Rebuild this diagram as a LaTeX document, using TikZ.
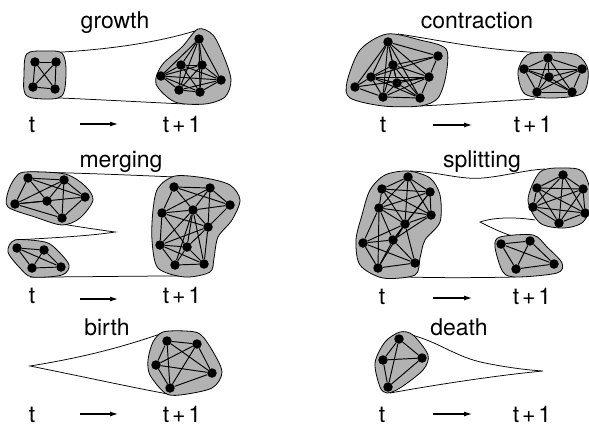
\documentclass[tikz,border=0pt]{standalone}
\usepackage{fontspec}
\setmainfont{TeX Gyre Heros}
\usetikzlibrary{arrows.meta}
% complete graph on vertices #11 ... #1#2
\newcommand\cliqueedges[2]{%
  \foreach \i in {1,...,#2}{\foreach \j in {1,...,#2}{%
    \ifnum\i<\j \draw[edge] (#1\i) -- (#1\j);\fi}}}
\newcommand\edgelist[2]{%
  \foreach \a/\b in {#2}{\draw[edge] (#1\a) -- (#1\b);}}
\begin{document}
\begin{tikzpicture}[x=1pt,y=-1pt,
  blob/.style={draw=black, line width=0.8pt, fill=black!30},
  tube/.style={draw=black, line width=0.75pt},
  edge/.style={draw=black, line width=0.95pt},
  vtx/.style={circle, fill=black, inner sep=0pt, minimum size=9.5pt},
  lbl/.style={font=\fontsize{23}{26}\selectfont, inner sep=0pt, anchor=base},
  timearrow/.style={-{Latex[length=8pt,width=5pt]}, line width=1.1pt}]
\useasboundingbox (0,0) rectangle (589,426);

% ---------------- growth ----------------
\draw[tube] (45,53) .. controls (110,50) and (160,42) .. (198,30);
\draw[tube] (35,97) .. controls (90,99) and (140,102) .. (185,104);
\draw[blob] plot[smooth cycle, tension=0.6] coordinates {(30,52) (45,51) (60,52) (65,60) (66,75) (64,92) (58,98) (44,99) (29,97) (24,90) (24,75) (25,58)};
\draw[blob] plot[smooth cycle] coordinates {(198,29) (213,35) (224,57) (231,80) (225,97) (205,104) (175,102) (156,84) (162,65) (182,47)};
\node[vtx] (ga1) at (35,62) {};
\node[vtx] (ga2) at (56,62) {};
\node[vtx] (ga3) at (33,87) {};
\node[vtx] (ga4) at (55,89) {};
\cliqueedges{ga}{4}
\node[vtx] (gb1) at (199,39) {};
\node[vtx] (gb2) at (181,65) {};
\node[vtx] (gb3) at (202,65) {};
\node[vtx] (gb4) at (161,76) {};
\node[vtx] (gb5) at (221,80) {};
\node[vtx] (gb6) at (179,90) {};
\node[vtx] (gb7) at (200,92) {};
\cliqueedges{gb}{7}
\node[lbl] (gtitle) at (115,28) {growth};
\node[lbl] (gt0) at (32,132) {t};
\node[lbl] (gt1) at (182,132) {t\hspace{.12em}+\hspace{.12em}1};
\coordinate (garr0) at (80,124);
\coordinate (garr1) at (118,124);
\draw[timearrow] (garr0) -- (garr1);

% ---------------- contraction ----------------
\draw[tube] (398,34) .. controls (440,40) and (480,50) .. (546,53);
\draw[tube] (420,106) .. controls (460,104) and (500,101) .. (535,99);
\draw[blob] plot[smooth cycle] coordinates {(387,34) (420,40) (446,49) (446,75) (438,98) (420,106) (383,106) (350,98) (347,82) (360,50)};
\draw[blob] plot[smooth cycle] coordinates {(527,55) (548,52) (577,55) (588,70) (583,93) (553,98) (525,94) (518,72)};
\node[vtx] (ca1) at (388,42) {};
\node[vtx] (ca2) at (438,56) {};
\node[vtx] (ca3) at (393,65) {};
\node[vtx] (ca4) at (371,77) {};
\node[vtx] (ca5) at (429,77) {};
\node[vtx] (ca6) at (397,83) {};
\node[vtx] (ca7) at (355,87) {};
\node[vtx] (ca8) at (383,97) {};
\node[vtx] (ca9) at (420,98) {};
\edgelist{ca}{1/2,1/3,1/4,1/5,1/6,1/7,1/8,1/9,2/3,2/4,2/5,3/4,3/5,3/6,3/8,3/9,4/5,4/6,4/7,4/8,4/9,5/6,5/7,5/8,5/9,6/8,6/9,7/8,8/9}
\node[vtx] (cb1) at (548,58) {};
\node[vtx] (cb2) at (524,69) {};
\node[vtx] (cb3) at (582,69) {};
\node[vtx] (cb4) at (549,77) {};
\node[vtx] (cb5) at (537,92) {};
\node[vtx] (cb6) at (572,92) {};
\cliqueedges{cb}{6}
\node[lbl] (ctitle) at (477,28) {contraction};
\node[lbl] (ct0) at (383,132) {t};
\node[lbl] (ct1) at (533,132) {t\hspace{.12em}+\hspace{.12em}1};
\coordinate (carr0) at (433,125);
\coordinate (carr1) at (472,125);
\draw[timearrow] (carr0) -- (carr1);

% ---------------- merging ----------------
\draw[tube] (30,172) .. controls (80,173) and (130,175) .. (175,177);
\draw[tube] (62,224) .. controls (80,227) and (100,230) .. (115,232)
            .. controls (90,236) and (50,238) .. (15,240);
\draw[tube] (30,277) .. controls (80,277) and (130,276) .. (180,276);
\draw[blob] plot[smooth cycle] coordinates {(25,172) (65,174) (85,186) (93,200) (80,218) (62,225) (35,217) (8,207) (8,192) (15,178)};
\draw[blob] plot[smooth cycle] coordinates {(15,240) (45,242) (57,250) (69,265) (62,275) (32,277) (20,268) (8,252)};
\draw[blob] plot[smooth cycle] coordinates {(175,176) (205,178) (230,185) (240,200) (232,220) (218,237) (214,258) (210,272) (185,277) (158,268) (152,240) (153,210) (158,188)};
\node[vtx] (ma1) at (28,178) {};
\node[vtx] (ma2) at (64,180) {};
\node[vtx] (ma3) at (15,204) {};
\node[vtx] (ma4) at (47,201) {};
\node[vtx] (ma5) at (85,197) {};
\node[vtx] (ma6) at (62,218) {};
\edgelist{ma}{1/2,1/3,1/4,1/5,2/3,2/4,2/5,3/4,3/5,3/6,4/6,5/6,2/6}
\node[vtx] (mb1) at (17,248) {};
\node[vtx] (mb2) at (44,250) {};
\node[vtx] (mb3) at (32,268) {};
\node[vtx] (mb4) at (61,267) {};
\cliqueedges{mb}{4}
\node[vtx] (mc1) at (174,187) {};
\node[vtx] (mc2) at (210,188) {};
\node[vtx] (mc3) at (230,205) {};
\node[vtx] (mc4) at (162,213) {};
\node[vtx] (mc5) at (193,210) {};
\node[vtx] (mc6) at (208,227) {};
\node[vtx] (mc7) at (160,245) {};
\node[vtx] (mc8) at (187,247) {};
\node[vtx] (mc9) at (175,265) {};
\node[vtx] (mc10) at (204,264) {};
\edgelist{mc}{1/2,1/3,1/4,1/5,2/3,2/4,2/5,3/5,3/6,4/5,4/6,4/7,4/8,5/6,5/7,5/8,5/9,5/10,6/7,6/8,6/10,7/8,7/9,7/10,8/9,8/10,9/10,2/6}
\node[lbl] (mtitle) at (121,167) {merging};
\node[lbl] (mt0) at (32,303) {t};
\node[lbl] (mt1) at (182,303) {t\hspace{.12em}+\hspace{.12em}1};
\coordinate (marr0) at (80,299);
\coordinate (marr1) at (118,299);
\draw[timearrow] (marr0) -- (marr1);

% ---------------- splitting ----------------
\draw[tube] (410,171) .. controls (440,172) and (460,180) .. (483,178)
            .. controls (505,176) and (525,170) .. (545,169);
\draw[tube] (535,220) .. controls (515,217) and (495,217) .. (480,222)
            .. controls (492,228) and (500,232) .. (512,236);
\draw[tube] (380,276) .. controls (420,278) and (470,278) .. (515,277);
\draw[blob] plot[smooth cycle] coordinates {(408,171) (430,178) (440,195) (440,222) (425,240) (420,258) (415,275) (383,278) (360,265) (356,240) (362,215) (370,190) (385,175)};
\draw[blob] plot[smooth cycle] coordinates {(563,168) (583,172) (592,200) (583,222) (563,228) (540,223) (528,200) (540,172)};
\draw[blob] plot[smooth cycle] coordinates {(500,237) (533,235) (547,247) (562,263) (557,273) (517,277) (503,272) (495,247)};
\node[vtx] (sa1) at (408,177) {};
\node[vtx] (sa2) at (382,189) {};
\node[vtx] (sa3) at (430,192) {};
\node[vtx] (sa4) at (379,208) {};
\node[vtx] (sa5) at (431,215) {};
\node[vtx] (sa6) at (405,224) {};
\node[vtx] (sa7) at (363,243) {};
\node[vtx] (sa8) at (393,240) {};
\node[vtx] (sa9) at (378,268) {};
\node[vtx] (sa10) at (415,263) {};
\edgelist{sa}{1/2,1/3,1/4,1/5,1/6,2/3,2/4,2/5,2/6,3/4,3/5,3/6,4/5,4/6,4/7,4/8,4/9,5/6,5/8,6/7,6/8,6/9,6/10,7/8,7/9,7/10,8/9,8/10,9/10,3/8}
\node[vtx] (sb1) at (563,175) {};
\node[vtx] (sb2) at (537,188) {};
\node[vtx] (sb3) at (583,189) {};
\node[vtx] (sb4) at (533,207) {};
\node[vtx] (sb5) at (585,213) {};
\node[vtx] (sb6) at (559,223) {};
\cliqueedges{sb}{6}
\node[vtx] (sc1) at (501,244) {};
\node[vtx] (sc2) at (530,241) {};
\node[vtx] (sc3) at (516,269) {};
\node[vtx] (sc4) at (554,264) {};
\cliqueedges{sc}{4}
\node[lbl] (stitle) at (482,167) {splitting};
\node[lbl] (st0) at (382,304) {t};
\node[lbl] (st1) at (532,304) {t\hspace{.12em}+\hspace{.12em}1};
\coordinate (sarr0) at (433,298);
\coordinate (sarr1) at (472,298);
\draw[timearrow] (sarr0) -- (sarr1);

% ---------------- birth ----------------
\draw[tube] (163,333) .. controls (120,348) and (80,358) .. (30,366)
            .. controls (80,376) and (130,387) .. (168,394);
\draw[blob] plot[smooth cycle] coordinates {(163,332) (185,331) (200,334) (212,350) (222,372) (212,388) (180,395) (165,393) (150,375) (148,360) (153,342)};
\node[vtx] (ba1) at (167,341) {};
\node[vtx] (ba2) at (197,344) {};
\node[vtx] (ba3) at (156,365) {};
\node[vtx] (ba4) at (212,373) {};
\node[vtx] (ba5) at (170,388) {};
\cliqueedges{ba}{5}
\node[lbl] (btitle) at (107,335) {birth};
\node[lbl] (bt0) at (32,422) {t};
\node[lbl] (bt1) at (182,422) {t\hspace{.12em}+\hspace{.12em}1};
\coordinate (barr0) at (80,414);
\coordinate (barr1) at (118,414);
\draw[timearrow] (barr0) -- (barr1);

% ---------------- death ----------------
\draw[tube] (408,334) .. controls (440,342) and (455,357) .. (485,363)
            .. controls (510,368) and (528,370) .. (543,371)
            .. controls (500,375) and (440,384) .. (390,393);
\draw[blob] plot[smooth cycle] coordinates {(400,332) (413,335) (428,355) (423,370) (400,388) (387,393) (380,387) (375,363) (385,342)};
\node[vtx] (da1) at (399,339) {};
\node[vtx] (da2) at (383,360) {};
\node[vtx] (da3) at (422,358) {};
\node[vtx] (da4) at (388,387) {};
\cliqueedges{da}{4}
\node[lbl] (dtitle) at (459,335) {death};
\node[lbl] (dt0) at (382,422) {t};
\node[lbl] (dt1) at (532,422) {t\hspace{.12em}+\hspace{.12em}1};
\coordinate (darr0) at (433,414);
\coordinate (darr1) at (472,414);
\draw[timearrow] (darr0) -- (darr1);
\end{tikzpicture}
\end{document}
